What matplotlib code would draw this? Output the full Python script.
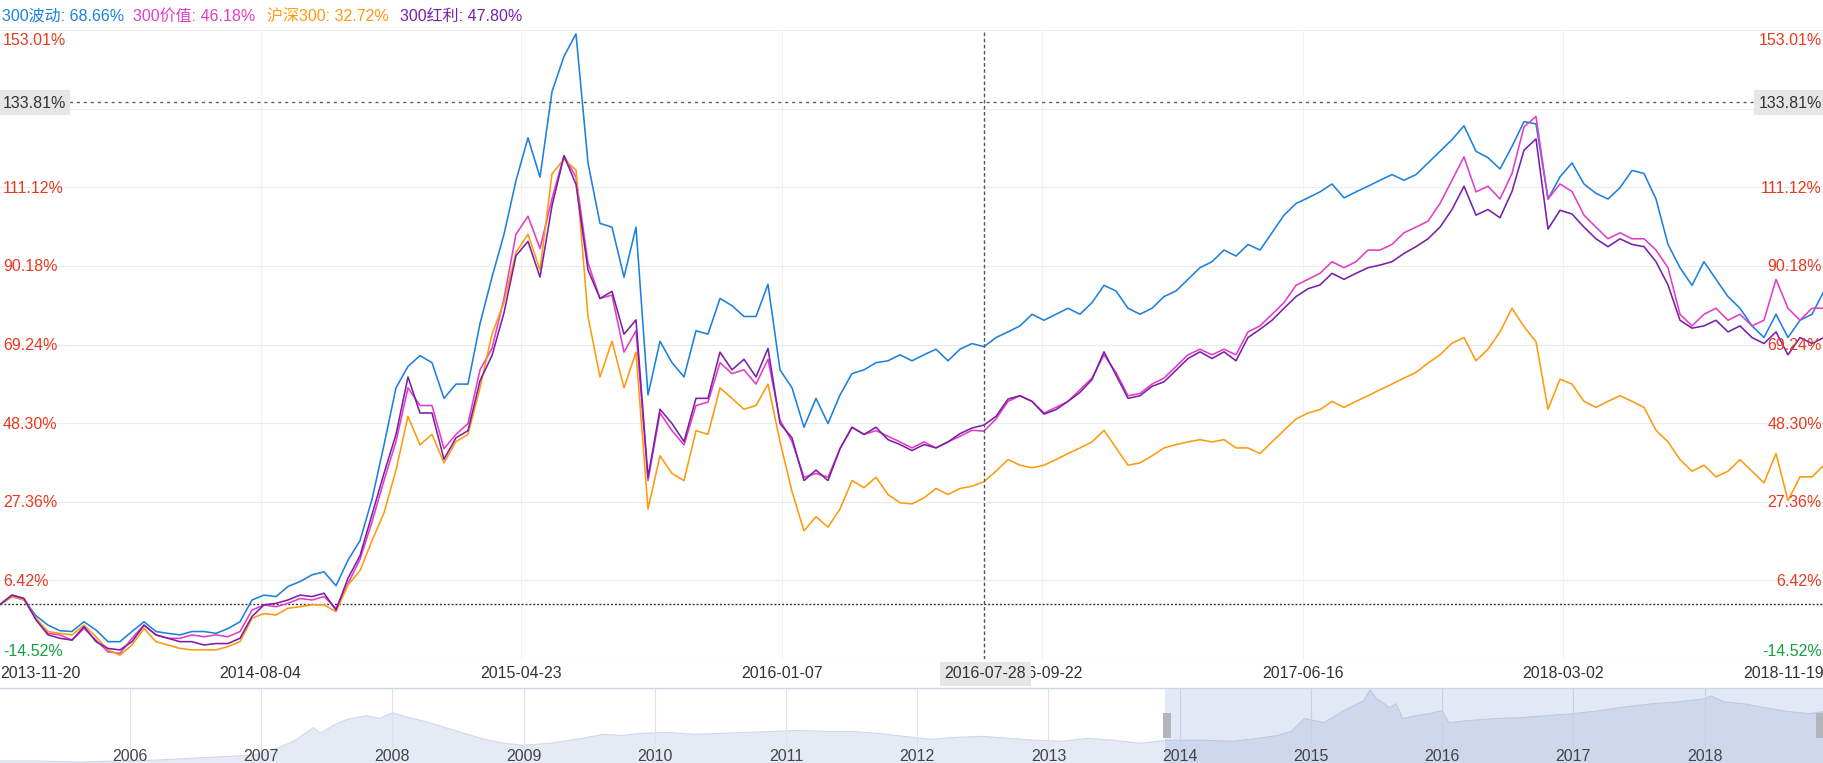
import matplotlib
matplotlib.use("Agg")
import matplotlib.pyplot as plt
from matplotlib.patches import Rectangle
import numpy as np

plt.rcParams['font.family'] = ['Liberation Sans', 'Noto Sans CJK SC', 'DejaVu Sans']

# ---- data (cumulative return %, one reading every 8 trading days) ----
wave_300 = [0, 2.1, 1.2, -3.0, -5.5, -7.0, -7.2, -4.6, -6.8, -9.9, -9.9, -7.2, -4.6, -7.2, -7.7, -8.1,
            -7.2, -7.2, -7.7, -6.4, -4.6, 1.2, 2.5, 2.1, 4.8, 6.1, 7.9, 8.7, 5.0, 11.8, 17, 28,
            42.5, 57.7, 63.4, 66.3, 64.4, 54.9, 58.7, 58.7, 74.8, 87.2, 98.6, 112.9, 124.3, 113.8, 136.6, 146,
            152, 117.6, 101.5, 100.5, 87.2, 100.5, 55.8, 70.1, 64.4, 60.6, 72.9, 72.0, 81.5, 79.6, 76.7, 76.7,
            85.3, 62.5, 57.7, 47.2, 54.9, 48.2, 55.8, 61.5, 62.5, 64.4,
            64.9, 66.5, 64.9, 66.5, 68, 64.9, 68, 69.5, 68.66, 71.1, 72.6, 74.2, 77.3, 75.7, 77.3, 78.9,
            77.3, 80.4, 85, 83.5, 78.9, 77.3, 78.9, 82, 83.5, 86.6, 89.7, 91.3, 94.4, 92.8, 95.9, 94.4,
            99, 103.7, 106.8, 108.3, 109.9, 112, 108.3, 109.9, 111.4, 113, 114.5, 113, 114.5, 117.6, 120.7, 123.8,
            127.5, 120.7, 119, 116, 122, 128.6, 128, 108, 113.9, 117.6, 112, 109.5, 108, 111, 115.6, 114.8,
            108, 95.9, 89.7, 85, 91.3, 86.6, 82, 78.9, 74.2, 71.1, 77.3, 71.1, 75.7, 77.3, 83.5]
value_300 = [0, 2.5, 1.6, -3.7, -7.7, -8.1, -9.5, -6.4, -9.5, -12.6, -13.0, -9.0, -5.5, -8.1, -9.0, -9.0,
             -8.1, -8.6, -8.1, -8.6, -7.2, -1.5, -0.1, -0.6, 0.3, 1.6, 1.2, 2.1, -1.0, 5.6, 12, 22,
             33, 43.4, 57.7, 53, 53, 41.5, 45.3, 48.2, 62.5, 68.2, 81.5, 98.6, 103.4, 94.8, 108.1, 119.5,
             113.8, 91, 81.5, 82.4, 67.2, 72.9, 33, 51, 46.3, 42.5, 53, 53.9, 64.4, 61.5, 62.5, 58.7,
             65.3, 49.1, 43.4, 33.9, 34.9, 33.9, 41.5, 47.2, 45.3, 46.3,
             44.8, 43.3, 41.7, 43.3, 41.7, 43.3, 44.8, 46.4, 46.18, 49.4, 54.1, 55.6, 54.1, 51, 52.5, 54.1,
             57.2, 60.3, 66.5, 61.8, 55.6, 56.2, 58.7, 60.3, 63.4, 66.5, 68, 66.5, 68, 66.5, 72.6, 74.2,
             77.3, 80.4, 85, 86.6, 88.2, 91.3, 89.7, 91.3, 94.4, 94.4, 95.9, 99, 100.5, 102.1, 106.8, 113,
             119.2, 109.9, 111.4, 108, 114.8, 127.2, 130, 108, 112, 110, 103.7, 100.5, 97.4, 99, 97.4, 97.4,
             94.4, 89.7, 77.3, 74.2, 77.3, 78.9, 75.7, 77.3, 74.2, 75.7, 86.6, 78.9, 75.7, 78.9, 78.9]
csi_300 = [0, 2.1, 1.2, -3.7, -7.2, -7.7, -8.1, -5.5, -8.6, -12.1, -13.5, -10.8, -6.4, -9.9, -10.8, -11.7,
           -12.1, -12.1, -12.1, -11.2, -9.9, -3.7, -2.4, -2.8, -1.0, -0.6, -0.1, -0.1, -1.9, 5.2, 9, 17,
           24.4, 35.8, 50.1, 42.5, 45.3, 37.7, 43.4, 45.3, 57.7, 72, 80.5, 93.8, 98.6, 89.1, 114.7, 118.6,
           115.7, 76.7, 60.6, 70.1, 57.7, 67.2, 25.4, 39.6, 34.9, 33, 46.3, 45.3, 57.7, 54.9, 52, 53,
           58.7, 43.4, 30.1, 19.6, 23.4, 20.6, 25.4, 33, 31.1, 33.9,
           29.3, 27.1, 26.8, 28.4, 30.9, 29.3, 30.9, 31.5, 32.72, 35.5, 38.6, 37.1, 36.4, 37.1, 38.6, 40.2,
           41.7, 43.3, 46.4, 41.7, 37.1, 37.7, 39.6, 41.7, 42.6, 43.3, 43.9, 43.3, 43.9, 41.7, 41.7, 40.2,
           43.3, 46.4, 49.4, 51, 51.9, 54.1, 52.5, 54.1, 55.6, 57.2, 58.7, 60.3, 61.8, 64.3, 66.5, 69.6,
           71.1, 64.9, 68, 72.6, 78.9, 74, 70, 52, 60, 58.7, 54.1, 52.5, 54.1, 55.6, 54.1, 52.5,
           46.4, 43.3, 38.6, 35.5, 37.1, 34, 35.5, 38.6, 35.5, 32.4, 40.2, 27.7, 34, 34, 37.1]
div_300 = [0, 2.5, 1.6, -4.1, -8.1, -9.0, -9.5, -5.9, -9.9, -11.7, -12.1, -9.9, -5.5, -8.1, -9.0, -9.9,
           -9.9, -10.8, -10.4, -10.4, -9.0, -3.2, -0.1, 0.3, 1.2, 2.5, 2.1, 3.0, -1.5, 7.0, 13, 24,
           34.9, 45.3, 60.6, 51, 51, 38.7, 44.4, 46.3, 59.6, 66.3, 77.7, 92.9, 96.7, 87.2, 106.2, 119.5,
           111.9, 89.1, 81.5, 83.4, 72, 75.8, 33.9, 52, 48.2, 43.4, 54.9, 54.9, 67.2, 62.5, 65.3, 60.6,
           68.2, 48.2, 44.4, 33, 35.8, 33, 41.5, 47.2, 45.3, 47.2,
           43.9, 42.6, 41, 42.6, 41.7, 43.3, 45.5, 47, 47.8, 50.1, 54.7, 55.6, 54.1, 50.7, 51.9, 54.1,
           56.5, 59.9, 67.3, 61.1, 54.9, 55.6, 58.1, 59.3, 62.4, 65.5, 67.3, 65.5, 67.3, 64.9, 71.1, 73.3,
           75.7, 78.9, 82, 84.1, 85.1, 88.2, 86.6, 88.2, 89.7, 90.4, 91.3, 93.5, 95.3, 97.4, 100.5, 105.2,
           111.4, 103.7, 105.2, 103, 110, 121, 124, 100, 105, 104, 100.5, 97.4, 95.3, 97.4, 95.9, 95.3,
           91.3, 85.1, 75.7, 73.6, 74.2, 75.7, 72.6, 74.2, 71.1, 69.5, 72.6, 66.5, 71.1, 69.5, 71.1]

series_names = ['300波动', '300价值', '沪深300', '300红利']
series_vals = [wave_300, value_300, csi_300, div_300]
series_colors = ['#1c80e0', '#e23dc6', '#ff9a0e', '#7a1fa8']
hover_vals = ['68.66%', '46.18%', '32.72%', '47.80%']

date_labels = ['2013-11-20', '2014-08-04', '2015-04-23', '2016-01-07',
               '2016-09-22', '2017-06-16', '2018-03-02', '2018-11-19']
y_ticks = [-14.52, 6.42, 27.36, 48.30, 69.24, 90.18, 111.12, 132.06, 153.01]
hidden_tick = 132.06  # its label sits under the crosshair box

# navigator (full history of the index, arbitrary scale)
nav_years = [2005.0, 2005.3, 2005.6, 2005.9, 2006.2, 2006.5, 2006.8, 2007.0, 2007.1, 2007.25, 2007.4,
             2007.45, 2007.55, 2007.65, 2007.8, 2007.9, 2008.0, 2008.1, 2008.25, 2008.4, 2008.55, 2008.7,
             2008.85, 2009.0, 2009.2, 2009.45, 2009.6, 2009.75, 2009.9, 2010.1, 2010.3, 2010.5, 2010.7,
             2010.9, 2011.1, 2011.3, 2011.5, 2011.7, 2011.9, 2012.1, 2012.3, 2012.5, 2012.7, 2012.9,
             2013.1, 2013.3, 2013.5, 2013.7, 2013.9, 2014.0, 2014.2, 2014.4, 2014.6, 2014.75, 2014.85,
             2014.95, 2015.1, 2015.25, 2015.4, 2015.45, 2015.5, 2015.55, 2015.6, 2015.65, 2015.7, 2015.8,
             2015.9, 2016.0, 2016.05, 2016.2, 2016.4, 2016.6, 2016.8, 2017.0, 2017.2, 2017.4, 2017.6,
             2017.8, 2018.0, 2018.05, 2018.15, 2018.3, 2018.5, 2018.65, 2018.8, 2018.91]
nav_vals = [2, 2, 1, 2, 3, 5, 7, 9, 14, 22, 36, 30, 38, 44, 48, 45, 51, 47, 42, 36, 30, 24, 20, 18, 20,
            25, 29, 28, 30, 31, 29, 30, 31, 32, 33, 32, 32, 30, 27, 24, 26, 27, 25, 23, 22, 25, 23, 20,
            23, 23, 23, 22, 25, 28, 32, 45, 41, 53, 63, 74, 65, 61, 56, 60, 45, 48, 50, 53, 41, 43, 45,
            46, 48, 50, 53, 57, 60, 62, 65, 68, 62, 60, 55, 52, 50, 52]
nav_years_lbl = list(range(2006, 2019))
window_start = 2013.885
crosshair_idx = 82
crosshair_y = 133.81

# ---- layout in pixels ----
W, H = 1824, 763
TOP, BOT = 30, 659
NAV_TOP = 688


def fx(x):
    return x / W


def fy(y):
    return 1 - y / H


fig = plt.figure(figsize=(W / 100, H / 100), dpi=100)
ax = fig.add_axes([0, fy(BOT), 1, (BOT - TOP) / H])
n = len(wave_300)
xs = np.arange(n)
ymin, ymax = y_ticks[0], y_ticks[-1]
ax.set_xlim(0, n - 1)
ax.set_ylim(ymin, ymax)
ax.axis('off')

# grid
for v in y_ticks:
    ax.axhline(v, color='#ebebeb', lw=0.8, zorder=0)
tick_pos = [k * (n - 1) / 7 for k in range(8)]
for t in tick_pos[1:-1]:
    ax.axvline(t, color='#f0f0f0', lw=0.8, zorder=0)

ax.axhline(0, color='#333333', lw=1.0, ls=(0, (1.4, 1.4)), zorder=1)

for vals, c in zip(series_vals, series_colors):
    ax.plot(xs, vals, color=c, lw=1.15, zorder=3, solid_joinstyle='round')

# crosshair
ax.axhline(crosshair_y, color='#606060', lw=1.0, ls=(0, (2.2, 2.8)), zorder=4)
ax.axvline(crosshair_idx, color='#555555', lw=1.0, ls=(0, (2.6, 1.8)), zorder=4)

FS = 11.5
red, green = '#e8391f', '#14a042'
for v in y_ticks:
    if v == hidden_tick:
        continue
    col = green if v < 0 else red
    if v == ymax:
        dy = -11
    elif v == ymin:
        dy = 8
    else:
        dy = -1
    ax.annotate(f'{v:.2f}%', xy=(0, v), xycoords=('axes fraction', 'data'), xytext=(3, dy),
                textcoords='offset pixels', ha='left', va='center', color=col, fontsize=FS, zorder=5)
    ax.annotate(f'{v:.2f}%', xy=(1, v), xycoords=('axes fraction', 'data'), xytext=(-2, dy),
                textcoords='offset pixels', ha='right', va='center', color=col, fontsize=FS, zorder=5)

# x labels
for k, (t, lab) in enumerate(zip(tick_pos, date_labels)):
    xp = t / (n - 1) * W
    ha = 'center'
    if k == 0:
        ha, xp = 'left', 0
    elif k == len(date_labels) - 1:
        ha, xp = 'right', W
    fig.text(fx(xp), fy(674), lab, ha=ha, va='center', color='#333333', fontsize=FS)

# crosshair labels
cx = crosshair_idx / (n - 1) * W
py = TOP + (ymax - crosshair_y) / (ymax - ymin) * (BOT - TOP)
for x0 in (0, W - 70):
    fig.add_artist(Rectangle((fx(x0), fy(py + 13)), 70 / W, 25 / H, transform=fig.transFigure,
                             color='#e6e6e6', lw=0, zorder=10))
fig.text(fx(3), fy(py + 1), f'{crosshair_y:.2f}%', ha='left', va='center', color='#333333',
         fontsize=FS, zorder=11)
fig.text(fx(W - 2), fy(py + 1), f'{crosshair_y:.2f}%', ha='right', va='center', color='#333333',
         fontsize=FS, zorder=11)
fig.add_artist(Rectangle((fx(cx - 44), fy(686)), 91 / W, 24 / H, transform=fig.transFigure,
                         color='#e6e6e6', lw=0, zorder=10))
fig.text(fx(cx + 1), fy(674), '2016-07-28', ha='center', va='center', color='#333333',
         fontsize=FS, zorder=11)

# legend
leg_x = [2, 133, 267, 400]
for name, hv, c, x0 in zip(series_names, hover_vals, series_colors, leg_x):
    fig.text(fx(x0), fy(16), f'{name}: {hv}', ha='left', va='center', color=c, fontsize=FS)

# navigator
nav = fig.add_axes([0, 0, 1, (H - NAV_TOP) / H])
nav.set_xlim(2005.01, 2018.91)
nav.set_ylim(0, 76)
nav.axis('off')
nav.fill_between(nav_years, nav_vals, color='#e6eaf5', lw=0, zorder=1)
nav.plot(nav_years, nav_vals, color='#d0d8ea', lw=0.8, zorder=1.5)
for yr in nav_years_lbl:
    nav.axvline(yr, color='#dde2ec', lw=0.8, zorder=2)
    nav.text(yr, 7, str(yr), ha='center', va='center', color='#444444', fontsize=FS, zorder=5)
nav.axvspan(window_start, 2018.91, color=(102 / 255, 133 / 255, 194 / 255), alpha=0.18, lw=0, zorder=3)
fig.add_artist(plt.Line2D([0, 1], [fy(NAV_TOP), fy(NAV_TOP)], transform=fig.transFigure,
                          color='#cfd7e6', lw=1.0))
for x0 in (1163, 1816):
    fig.add_artist(Rectangle((fx(x0), fy(738)), 8 / W, 25 / H, transform=fig.transFigure,
                             color='#b2b6bc', lw=0, zorder=6))

fig.savefig('out.png', dpi=100)
